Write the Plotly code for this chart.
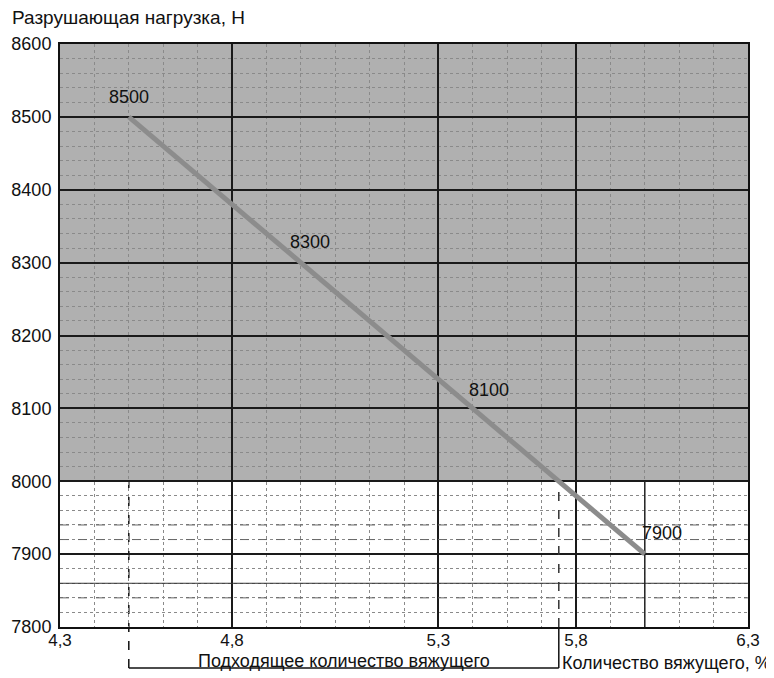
import plotly.graph_objects as go

# Data
binder_pct = [4.5, 5.0, 5.5, 6.0]
load_n = [8500, 8300, 8100, 7900]
point_labels = ["8500", "8300", "8100", "7900"]
label_dx = [0, 9, 16, 17]
label_dy = [20, 21, 18, 21]

x_tick_vals = [4.3, 4.8, 5.4, 5.8, 6.3]
x_tick_text = ["4,3", "4,8", "5,3", "5,8", "6,3"]
y_tick_vals = [7800, 7900, 8000, 8100, 8200, 8300, 8400, 8500, 8600]

x_range = [4.3, 6.3]
y_range = [7800, 8600]
shade_from = 8000             # shaded zone lower bound
suitable_range = [4.5, 5.75]  # suitable binder amount
extra_dashed_y = [7940, 7920, 7840]
extra_solid_y = [7860]

FONT = "Liberation Sans, Arial, sans-serif"

fig = go.Figure()
fig.add_trace(go.Scatter(
    x=binder_pct, y=load_n, mode="lines",
    line=dict(color="#8c8c8c", width=5),
    showlegend=False, hoverinfo="skip",
))

annotations = []
for xv, yv, t, dx, dy in zip(binder_pct, load_n, point_labels, label_dx, label_dy):
    annotations.append(dict(x=xv, y=yv, xref="x", yref="y", text=t, showarrow=False,
                            xshift=dx, yshift=dy, xanchor="center", yanchor="middle",
                            font=dict(family=FONT, size=18, color="#111")))

shapes = []
shapes.append(dict(type="rect", xref="x", yref="y", x0=x_range[0], x1=x_range[1],
                   y0=shade_from, y1=y_range[1], fillcolor="#b0b0b0",
                   line=dict(width=0), layer="below"))
for yy in extra_dashed_y:
    shapes.append(dict(type="line", xref="x", yref="y", x0=x_range[0], x1=x_range[1],
                       y0=yy, y1=yy, line=dict(color="#666", width=1, dash="dash"),
                       layer="between"))
for yy in extra_solid_y:
    shapes.append(dict(type="line", xref="x", yref="y", x0=x_range[0], x1=x_range[1],
                       y0=yy, y1=yy, line=dict(color="#333", width=1), layer="between"))
shapes.append(dict(type="line", xref="x", yref="y", x0=binder_pct[-1], x1=binder_pct[-1],
                   y0=y_range[0], y1=shade_from, line=dict(color="#222", width=1.5),
                   layer="between"))
box_bottom = -0.0703
xa, xb = suitable_range
shapes.append(dict(type="line", xref="x", yref="paper", x0=xa, x1=xa, y0=box_bottom, y1=1,
                   line=dict(color="#111", width=1.5, dash="dash"), layer="between"))
shapes.append(dict(type="line", xref="x", yref="y", x0=xb, x1=xb, y0=y_range[0], y1=shade_from,
                   line=dict(color="#333", width=1.5, dash="dash"), layer="between"))
shapes.append(dict(type="line", xref="x", yref="paper", x0=xb, x1=xb, y0=box_bottom, y1=0,
                   line=dict(color="#111", width=1.5)))
shapes.append(dict(type="line", xref="x", yref="paper", x0=xa, x1=xb, y0=box_bottom, y1=box_bottom,
                   line=dict(color="#111", width=1.5)))

annotations += [
    dict(text="Подходящее количество вяжущего", xref="x", yref="paper",
         x=(xa + xb) / 2, y=-0.0583, yanchor="middle", xanchor="center",
         showarrow=False, font=dict(family=FONT, size=18, color="#111")),
    dict(text="Количество вяжущего, %", xref="paper", yref="paper",
         x=1.036, y=-0.061, xanchor="right", yanchor="middle",
         showarrow=False, font=dict(family=FONT, size=18, color="#111")),
    dict(text="Разрушающая нагрузка, Н", xref="paper", yref="paper",
         x=-0.0727, y=1.0446, xanchor="left", yanchor="middle",
         showarrow=False, font=dict(family=FONT, size=19, color="#111")),
]

fig.update_layout(
    width=766, height=670,
    margin=dict(l=52, r=26, t=36, b=51, autoexpand=False),
    paper_bgcolor="white", plot_bgcolor="white",
    shapes=shapes, annotations=annotations,
    font=dict(family=FONT, size=18, color="#111"),
    xaxis=dict(range=x_range, tickmode="array", tickvals=x_tick_vals, ticktext=x_tick_text,
               automargin=False,
               showgrid=True, gridcolor="#1a1a1a", gridwidth=1.5,
               showline=True, linecolor="#111", linewidth=2, mirror=True,
               ticks="", zeroline=False, tickfont=dict(size=17), ticklabelstandoff=-3,
               minor=dict(tickmode="linear", tick0=4.3, dtick=0.1, showgrid=True,
                          gridcolor="#8a8a8a", gridwidth=1, griddash="dot")),
    yaxis=dict(range=y_range, tickmode="array", tickvals=y_tick_vals,
               automargin=False,
               showgrid=True, gridcolor="#1a1a1a", gridwidth=2,
               showline=True, linecolor="#111", linewidth=2, mirror=True,
               ticks="", zeroline=False, tickfont=dict(size=18), ticklabelstandoff=3,
               minor=dict(tickmode="linear", tick0=7800, dtick=20, showgrid=True,
                          gridcolor="#8a8a8a", gridwidth=1, griddash="dot")),
)

fig.write_html("out.html")
